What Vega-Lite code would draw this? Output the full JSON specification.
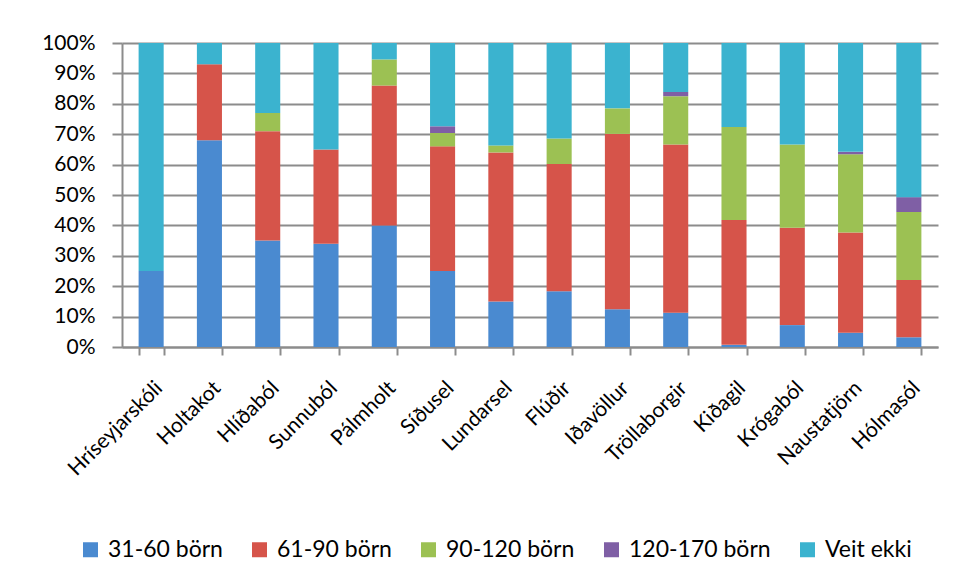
{
  "$schema": "https://vega.github.io/schema/vega-lite/v6.json",
  "width": 816,
  "height": 304,
  "autosize": "none",
  "padding": {"left": 122, "top": 43, "right": 17, "bottom": 233},
  "background": "white",
  "config": {
    "view": {"stroke": null},
    "font": "Lato",
    "axis": {"labelFont": "Lato", "labelColor": "#000000"},
    "legend": {"labelFont": "Lato", "labelColor": "#000000"}
  },
  "data": {
    "values": [
      {"cat": "Hríseyjarskóli", "grp": "31-60 börn", "o": 1, "v": 25},
      {"cat": "Hríseyjarskóli", "grp": "Veit ekki", "o": 5, "v": 75},
      {"cat": "Holtakot", "grp": "31-60 börn", "o": 1, "v": 68},
      {"cat": "Holtakot", "grp": "61-90 börn", "o": 2, "v": 25},
      {"cat": "Holtakot", "grp": "Veit ekki", "o": 5, "v": 7},
      {"cat": "Hlíðaból", "grp": "31-60 börn", "o": 1, "v": 35},
      {"cat": "Hlíðaból", "grp": "61-90 börn", "o": 2, "v": 36},
      {"cat": "Hlíðaból", "grp": "90-120 börn", "o": 3, "v": 6},
      {"cat": "Hlíðaból", "grp": "Veit ekki", "o": 5, "v": 23},
      {"cat": "Sunnuból", "grp": "31-60 börn", "o": 1, "v": 34},
      {"cat": "Sunnuból", "grp": "61-90 börn", "o": 2, "v": 31},
      {"cat": "Sunnuból", "grp": "Veit ekki", "o": 5, "v": 35},
      {"cat": "Pálmholt", "grp": "31-60 börn", "o": 1, "v": 40},
      {"cat": "Pálmholt", "grp": "61-90 börn", "o": 2, "v": 46},
      {"cat": "Pálmholt", "grp": "90-120 börn", "o": 3, "v": 8.6},
      {"cat": "Pálmholt", "grp": "Veit ekki", "o": 5, "v": 5.4},
      {"cat": "Síðusel", "grp": "31-60 börn", "o": 1, "v": 25},
      {"cat": "Síðusel", "grp": "61-90 börn", "o": 2, "v": 41},
      {"cat": "Síðusel", "grp": "90-120 börn", "o": 3, "v": 4.4},
      {"cat": "Síðusel", "grp": "120-170 börn", "o": 4, "v": 2.2},
      {"cat": "Síðusel", "grp": "Veit ekki", "o": 5, "v": 27.4},
      {"cat": "Lundarsel", "grp": "31-60 börn", "o": 1, "v": 15},
      {"cat": "Lundarsel", "grp": "61-90 börn", "o": 2, "v": 49},
      {"cat": "Lundarsel", "grp": "90-120 börn", "o": 3, "v": 2.3},
      {"cat": "Lundarsel", "grp": "Veit ekki", "o": 5, "v": 33.7},
      {"cat": "Flúðir", "grp": "31-60 börn", "o": 1, "v": 18.3},
      {"cat": "Flúðir", "grp": "61-90 börn", "o": 2, "v": 41.9},
      {"cat": "Flúðir", "grp": "90-120 börn", "o": 3, "v": 8.4},
      {"cat": "Flúðir", "grp": "Veit ekki", "o": 5, "v": 31.4},
      {"cat": "Iðavöllur", "grp": "31-60 börn", "o": 1, "v": 12.4},
      {"cat": "Iðavöllur", "grp": "61-90 börn", "o": 2, "v": 57.7},
      {"cat": "Iðavöllur", "grp": "90-120 börn", "o": 3, "v": 8.4},
      {"cat": "Iðavöllur", "grp": "Veit ekki", "o": 5, "v": 21.5},
      {"cat": "Tröllaborgir", "grp": "31-60 börn", "o": 1, "v": 11.3},
      {"cat": "Tröllaborgir", "grp": "61-90 börn", "o": 2, "v": 55.3},
      {"cat": "Tröllaborgir", "grp": "90-120 börn", "o": 3, "v": 15.9},
      {"cat": "Tröllaborgir", "grp": "120-170 börn", "o": 4, "v": 1.4},
      {"cat": "Tröllaborgir", "grp": "Veit ekki", "o": 5, "v": 16.1},
      {"cat": "Kiðagil", "grp": "31-60 börn", "o": 1, "v": 0.7},
      {"cat": "Kiðagil", "grp": "61-90 börn", "o": 2, "v": 41.1},
      {"cat": "Kiðagil", "grp": "90-120 börn", "o": 3, "v": 30.6},
      {"cat": "Kiðagil", "grp": "Veit ekki", "o": 5, "v": 27.6},
      {"cat": "Krógaból", "grp": "31-60 börn", "o": 1, "v": 7.2},
      {"cat": "Krógaból", "grp": "61-90 börn", "o": 2, "v": 32},
      {"cat": "Krógaból", "grp": "90-120 börn", "o": 3, "v": 27.4},
      {"cat": "Krógaból", "grp": "Veit ekki", "o": 5, "v": 33.4},
      {"cat": "Naustatjörn", "grp": "31-60 börn", "o": 1, "v": 4.7},
      {"cat": "Naustatjörn", "grp": "61-90 börn", "o": 2, "v": 33},
      {"cat": "Naustatjörn", "grp": "90-120 börn", "o": 3, "v": 25.7},
      {"cat": "Naustatjörn", "grp": "120-170 börn", "o": 4, "v": 0.8},
      {"cat": "Naustatjörn", "grp": "Veit ekki", "o": 5, "v": 35.8},
      {"cat": "Hólmasól", "grp": "31-60 börn", "o": 1, "v": 3.2},
      {"cat": "Hólmasól", "grp": "61-90 börn", "o": 2, "v": 18.8},
      {"cat": "Hólmasól", "grp": "90-120 börn", "o": 3, "v": 22.4},
      {"cat": "Hólmasól", "grp": "120-170 börn", "o": 4, "v": 4.9},
      {"cat": "Hólmasól", "grp": "Veit ekki", "o": 5, "v": 50.7}
    ]
  },
  "mark": {"type": "bar"},
  "encoding": {
    "x": {
      "field": "cat",
      "type": "nominal",
      "sort": null,
      "scale": {"paddingInner": 0.57, "paddingOuter": 0.285},
      "axis": {
        "title": null,
        "labelAngle": -45,
        "labelFontSize": 21,
        "labelPadding": 22,
        "labelDx": 6,
        "tickBand": "extent",
        "tickSize": 8,
        "tickColor": "#8c8c8c",
        "tickWidth": 2,
        "domainColor": "#8c8c8c",
        "domainWidth": 2,
        "grid": false
      }
    },
    "y": {
      "field": "v",
      "type": "quantitative",
      "stack": "normalize",
      "axis": {
        "title": null,
        "values": [0, 0.1, 0.2, 0.3, 0.4, 0.5, 0.6, 0.7, 0.8, 0.9, 1],
        "format": ".0%",
        "labelFontSize": 21,
        "labelPadding": 17,
        "tickSize": 10,
        "tickColor": "#8c8c8c",
        "tickWidth": 2,
        "domainColor": "#8c8c8c",
        "domainWidth": 2,
        "grid": true,
        "gridColor": "#8c8c8c",
        "gridWidth": 2
      }
    },
    "color": {
      "field": "grp",
      "type": "nominal",
      "scale": {
        "domain": ["31-60 börn", "61-90 börn", "90-120 börn", "120-170 börn", "Veit ekki"],
        "range": ["#4a8ad0", "#d6544a", "#9cc153", "#7f5fa5", "#3bb3cf"]
      },
      "legend": {
        "title": null,
        "orient": "none",
        "legendX": -43,
        "legendY": 495,
        "direction": "horizontal",
        "symbolType": "square",
        "symbolSize": 225,
        "symbolStrokeWidth": 0,
        "labelFontSize": 23,
        "labelOffset": 6,
        "columnPadding": 25
      }
    },
    "order": {"field": "o", "type": "quantitative"}
  }
}
